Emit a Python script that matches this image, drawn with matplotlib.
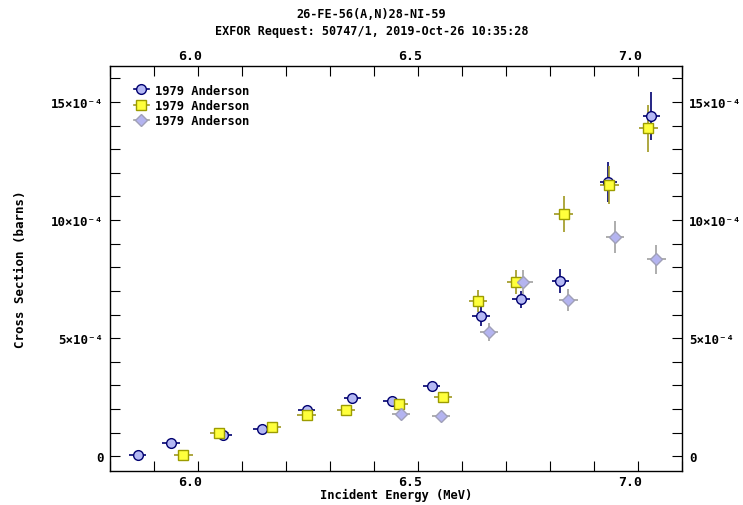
import matplotlib
matplotlib.use("Agg")
import matplotlib.pyplot as plt
import matplotlib.transforms as mtransforms
from matplotlib.lines import Line2D
from matplotlib.ticker import MultipleLocator, FixedLocator, FixedFormatter

# values; cross sections in units of 1e-4 barns
SCALE = 1e-4

circ_e = [5.862, 5.938, 6.057, 6.145, 6.246, 6.350, 6.440, 6.530, 6.643, 6.734, 6.823, 6.932, 7.030]
circ_y = [0.07, 0.55, 0.89, 1.14, 1.95, 2.46, 2.33, 2.98, 5.93, 6.65, 7.43, 11.60, 14.39]
circ_dy = [0.10, 0.10, 0.10, 0.10, 0.15, 0.15, 0.15, 0.20, 0.42, 0.36, 0.50, 0.85, 1.02]
circ_de = [0.020] * 13

sq_e = [5.966, 6.048, 6.168, 6.246, 6.336, 6.455, 6.556, 6.636, 6.722, 6.830, 6.934, 7.023]
sq_y = [0.04, 1.00, 1.24, 1.74, 1.95, 2.21, 2.50, 6.56, 7.37, 10.26, 11.49, 13.89]
sq_dy = [0.10, 0.10, 0.10, 0.15, 0.15, 0.15, 0.20, 0.47, 0.50, 0.76, 0.80, 0.99]
sq_de = [0.021] * 12

dia_e = [6.461, 6.552, 6.661, 6.739, 6.841, 6.947, 7.041]
dia_y = [1.78, 1.69, 5.25, 7.37, 6.63, 9.27, 8.34]
dia_dy = [0.15, 0.15, 0.39, 0.50, 0.47, 0.67, 0.62]
dia_de = [0.021] * 7

labels = ["1979 Anderson", "1979 Anderson", "1979 Anderson"]
xticks = [6.0, 6.5, 7.0]
yticks = [0, 5, 10, 15]
ytick_labels = ["0", "5×10⁻⁴", "10×10⁻⁴", "15×10⁻⁴"]

FONT = "DejaVu Sans Mono"

series = [
    (circ_e, circ_y, circ_de, circ_dy, "o", 7.0, "#b4b8f4", "#000070", "#000070"),
    (sq_e, sq_y, sq_de, sq_dy, "s", 6.5, "#ffff3c", "#9c9c00", "#a09820"),
    (dia_e, dia_y, dia_de, dia_dy, "D", 6.2, "#b4b4f0", "#a0a0b8", "#a0a0a0"),
]


def main():
    fig = plt.figure(figsize=(7.43, 5.06), dpi=100)
    ax = fig.add_axes([0.1485, 0.0678, 0.7698, 0.7992])

    handles = []
    for e, y, de, dy, mk, ms, face, edge, err in series:
        ax.errorbar(e, [v * SCALE for v in y], xerr=de, yerr=[v * SCALE for v in dy],
                    fmt=mk, ms=ms, mfc=face, mec=edge, mew=1.0,
                    ecolor=err, elinewidth=1.2, capsize=0, zorder=3)
        handles.append(Line2D([], [], marker=mk, ms=ms, mfc=face, mec=edge, mew=1.0,
                              color=err, lw=1.2))

    ax.set_xlim(5.8, 7.1)
    ax.set_ylim(-0.61 * SCALE, 16.51 * SCALE)

    ax.xaxis.set_major_locator(FixedLocator(xticks))
    ax.xaxis.set_minor_locator(MultipleLocator(0.1))
    ax.xaxis.set_major_formatter(FixedFormatter([f"{v:.1f}" for v in xticks]))
    ax.yaxis.set_major_locator(FixedLocator([v * SCALE for v in yticks]))
    ax.yaxis.set_major_formatter(FixedFormatter(ytick_labels))
    ax.yaxis.set_minor_locator(MultipleLocator(1 * SCALE))

    ax.tick_params(which="both", direction="in", length=7, width=0.8,
                   top=True, right=True, labeltop=True, labelright=True, color="black")
    ax.tick_params(axis="x", which="major", labelsize=9.5, pad=3)
    ax.tick_params(axis="y", which="major", labelsize=9, pad=5)

    # the EXFOR tick labels on the energy axis sit a few pixels left of their ticks
    shift = mtransforms.ScaledTranslation(-8 / 100, 0, fig.dpi_scale_trans)
    for tick in ax.xaxis.get_major_ticks():
        tick.label1.set_transform(tick.label1.get_transform() + shift)
        tick.label2.set_transform(tick.label2.get_transform() + shift)
    for tick in ax.xaxis.get_major_ticks() + ax.yaxis.get_major_ticks():
        for lbl in (tick.label1, tick.label2):
            lbl.set_fontfamily(FONT)
            lbl.set_fontweight("bold")
    for spine in ax.spines.values():
        spine.set_linewidth(1.0)

    ax.set_xlabel("Incident Energy (MeV)", fontfamily=FONT, fontweight="bold",
                  fontsize=8.7, labelpad=0)
    ax.set_ylabel("Cross Section (barns)", fontfamily=FONT, fontweight="bold",
                  fontsize=9, labelpad=17)

    fig.text(0.5, 0.972, "26-FE-56(A,N)28-NI-59", ha="center", va="center",
             fontfamily=FONT, fontweight="bold", fontsize=8.5)
    fig.text(0.5, 0.938, "EXFOR Request: 50747/1, 2019-Oct-26 10:35:28", ha="center",
             va="center", fontfamily=FONT, fontweight="bold", fontsize=8.5)

    ax.legend(handles, labels, loc="upper left", bbox_to_anchor=(0.028, 0.975),
              frameon=False, handlelength=1.3, handletextpad=0.5,
              labelspacing=0.2, borderaxespad=0.2,
              prop={"family": FONT, "weight": "bold", "size": 8.7})

    fig.savefig("out.png", dpi=100)
    plt.close(fig)


if __name__ == "__main__":
    main()
